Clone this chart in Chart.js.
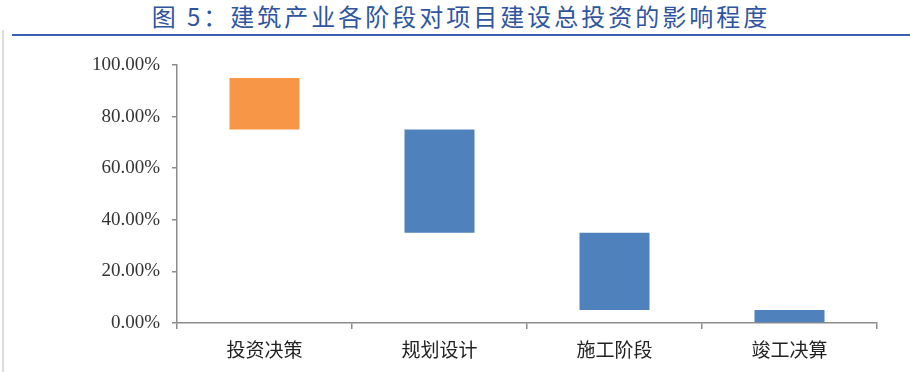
<!DOCTYPE html>
<html>
<head>
<meta charset="utf-8">
<script src="https://cdn.jsdelivr.net/npm/chart.js@4.4.0/dist/chart.umd.min.js"></script>
<style>
  html, body { margin: 0; padding: 0; background: #fff; }
  #wrap { position: relative; width: 910px; height: 372px; overflow: hidden; }
  #title {
    position: absolute; left: 12px; right: 0; top: 0; height: 34px;
    border-bottom: 2px solid #3c5fb0;
    text-align: center; line-height: 32px;
    font-family: "Noto Sans CJK SC", sans-serif; font-size: 24px;
    letter-spacing: 3px; color: #2f559f;
  }
  #leftline { position: absolute; left: 2px; top: 30px; width: 2px; height: 342px; background: #dcdcdc; }
  canvas { position: absolute; left: 0; top: 0; }
</style>
</head>
<body>
<div id="wrap">
  <div id="title">图 5：建筑产业各阶段对项目建设总投资的影响程度</div>
  <div id="leftline"></div>
  <canvas id="myChart" width="910" height="372"></canvas>
</div>
<script>
var categories = ['投资决策', '规划设计', '施工阶段', '竣工决算'];
var barStart = [75, 35, 5, 0];
var barEnd = [95, 75, 35, 5];
var barColors = ['#F79646', '#4F81BD', '#4F81BD', '#4F81BD'];
var yTicks = [0, 20, 40, 60, 80, 100];

document.addEventListener("DOMContentLoaded", function() {
  var ctx = document.getElementById('myChart').getContext('2d');

  var ranges = barStart.map(function(v, i) { return [v, barEnd[i]]; });

  var data = {
    labels: categories,
    datasets: [{
      data: ranges,
      backgroundColor: barColors,
      borderWidth: 0,
      categoryPercentage: 1.0,
      barPercentage: 0.4
    }]
  };

  var config = {
    type: 'bar',
    data: data,
    options: {
      responsive: false,
      animation: false,
      layout: { padding: { top: 65, right: 33, left: 0, bottom: 0 } },
      plugins: { legend: { display: false }, tooltip: { enabled: false } },
      scales: {
        x: {
          offset: true,
          grid: { display: true, drawOnChartArea: false, offset: true, tickLength: 6, color: '#8c8c8c', lineWidth: 1.5 },
          border: { display: true, color: '#8c8c8c', width: 1.5 },
          ticks: {
            padding: 9,
            color: '#222',
            font: { family: '"Noto Sans CJK SC", sans-serif', size: 19 }
          },
          afterFit: function(scale) { scale.height = 49; }
        },
        y: {
          min: 0,
          max: 100,
          afterBuildTicks: function(scale) {
            scale.ticks = yTicks.map(function(v) { return { value: v }; });
          },
          grid: { display: true, drawOnChartArea: false, tickLength: 5, color: '#8c8c8c', lineWidth: 1.5 },
          border: { display: true, color: '#8c8c8c', width: 1.5 },
          ticks: {
            padding: 12,
            color: '#333',
            font: { family: '"Liberation Serif", serif', size: 19 },
            callback: function(v) { return v.toFixed(2) + '%'; }
          },
          afterFit: function(scale) { scale.width = 177; }
        }
      }
    }
  };
  var myChart = new Chart(ctx, config);
});
</script>
</body>
</html>
